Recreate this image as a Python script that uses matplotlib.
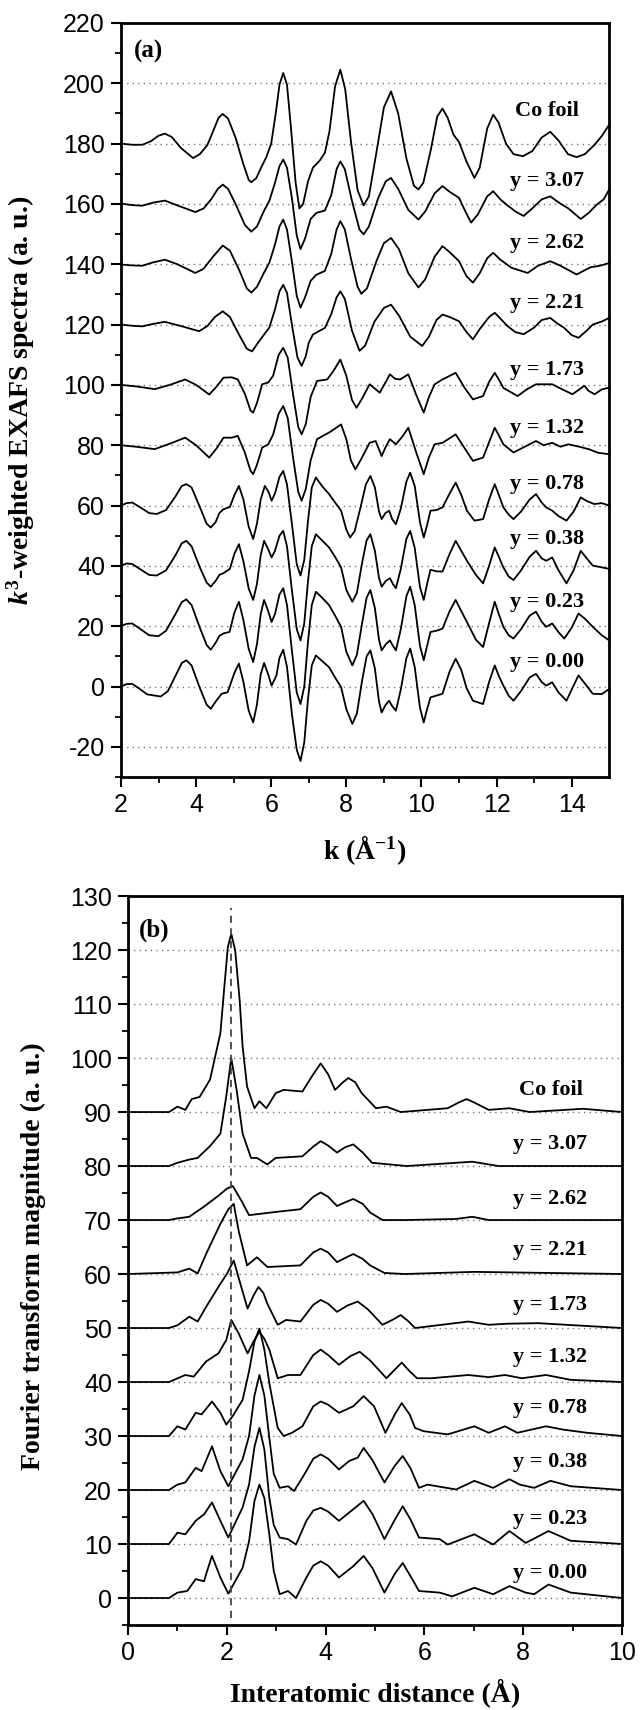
import matplotlib
matplotlib.use('Agg')
import matplotlib.pyplot as plt

plt.rcParams['font.family'] = ['Liberation Sans', 'DejaVu Sans']
plt.rcParams['axes.unicode_minus'] = False
plt.rcParams['mathtext.fontset'] = 'custom'
plt.rcParams['mathtext.rm'] = 'Liberation Serif:bold'
plt.rcParams['mathtext.bf'] = 'Liberation Serif:bold'
plt.rcParams['mathtext.it'] = 'Liberation Serif:italic:bold'
plt.rcParams['mathtext.bfit'] = 'Liberation Serif:italic:bold'

SERIF = ['Liberation Serif', 'DejaVu Serif']

# ---- panel (a): k^3-weighted EXAFS spectra (offset by 20 per sample) ----
a_k_co = [2.0, 2.3, 2.57, 2.8, 3.0, 3.17, 3.35, 3.6, 3.92, 4.1, 4.3, 4.45, 4.6, 4.71, 4.85, 5.05, 5.25,
          5.4, 5.47, 5.6, 5.75, 5.87, 6.0, 6.12, 6.22, 6.32, 6.42, 6.52, 6.65, 6.75, 6.85, 6.98, 7.11,
          7.3, 7.43, 7.55, 7.7, 7.84, 7.97, 8.12, 8.3, 8.46, 8.6, 8.8, 9.0, 9.19, 9.38, 9.6, 9.8, 9.92,
          10.05, 10.25, 10.42, 10.56, 10.7, 10.85, 11.0, 11.2, 11.41, 11.55, 11.75, 11.91, 12.05, 12.25,
          12.45, 12.7, 12.95, 13.2, 13.43, 13.65, 13.9, 14.13, 14.35, 14.6, 14.8, 15.0]
a_co = [180, 179.6, 179.6, 180.8, 182.6, 183.3, 182.2, 178.5, 175.2, 176.5, 179.5, 184, 188.6, 189.8,
        188.3, 182, 173.5, 168, 167.2, 168.5, 172.5, 175.5, 180, 190, 199.5, 203.4, 199.5, 186, 167,
        158.5, 160, 167.5, 172, 174.5, 177, 184, 199, 204.5, 198, 181, 164.5, 159.5, 162.5, 177, 192,
        197.3, 190, 175, 166, 164.8, 167, 178, 189, 191.6, 188.5, 183, 180.5, 174, 168.6, 172, 185, 189.6,
        187, 180, 176.5, 175.8, 177.5, 182, 183.9, 181, 176.5, 175.5, 176.5, 179.5, 182.5, 186.3]

a_k_307 = [2.0, 2.3, 2.57, 2.85, 3.17, 3.5, 3.98, 4.2, 4.4, 4.58, 4.71, 4.85, 5.05, 5.3, 5.47, 5.62, 5.8,
           5.95, 6.1, 6.22, 6.32, 6.42, 6.55, 6.68, 6.78, 6.9, 7.05, 7.2, 7.43, 7.6, 7.74, 7.84, 7.96,
           8.15, 8.35, 8.46, 8.6, 8.85, 9.05, 9.19, 9.38, 9.65, 9.92, 10.1, 10.35, 10.56, 10.75, 11.0,
           11.15, 11.32, 11.5, 11.75, 11.91, 12.1, 12.29, 12.5, 12.72, 12.95, 13.2, 13.43, 13.65, 13.91,
           14.1, 14.24, 14.45, 14.67, 14.85, 15.0]
a_307 = [160.1, 159.6, 159.4, 160.4, 161.1, 159.5, 157.3, 158.5, 161.5, 165, 166.4, 165, 160, 153, 150.8,
         152.5, 157.5, 161, 167, 172.5, 174.7, 172, 162, 149.5, 145, 148.5, 155, 157, 157.8, 163, 171.5,
         174.1, 171.5, 161, 151.5, 149.9, 152.5, 162, 167.5, 168.6, 165, 158, 154.8, 157.5, 163.5, 165.9,
         164, 162, 158, 153.8, 156.5, 162.5, 164.2, 161.5, 159.5, 157.5, 156, 158.5, 161.5, 162.5, 160.5,
         158.5, 156.5, 155, 157, 159.8, 161.5, 164.8]

a_k_262 = [2.0, 2.3, 2.57, 2.85, 3.17, 3.5, 3.98, 4.2, 4.45, 4.71, 4.9, 5.15, 5.35, 5.47, 5.62, 5.8, 5.95,
           6.1, 6.22, 6.32, 6.42, 6.55, 6.68, 6.78, 6.9, 7.05, 7.2, 7.43, 7.6, 7.74, 7.84, 7.96, 8.12,
           8.3, 8.40, 8.55, 8.8, 9.0, 9.19, 9.4, 9.65, 9.92, 10.1, 10.35, 10.56, 10.75, 11.0, 11.2, 11.37,
           11.55, 11.75, 11.91, 12.1, 12.40, 12.83, 13.1, 13.43, 13.7, 14.13, 14.5, 14.75, 15.0]
a_262 = [139.9, 139.6, 139.5, 140.6, 141.5, 140, 137.1, 138.5, 142.5, 146.2, 144.5, 138, 132, 130.6,
         132.5, 137, 140.5, 146.5, 152.5, 154.8, 151.5, 141, 129.5, 125.6, 129, 134.5, 136.5, 137.8,
         143.5, 151.5, 154.3, 151.5, 142, 132.5, 130.2, 132, 141, 147, 148.7, 145, 137, 132.3, 135, 142.5,
         146, 144, 141, 136, 133.9, 137, 142, 143.8, 141.5, 138.8, 137.1, 139.5, 141, 139.5, 136.6, 139,
         139.5, 140.4]

a_k_221 = [2.0, 2.3, 2.57, 2.85, 3.17, 3.6, 4.08, 4.3, 4.5, 4.71, 4.9, 5.15, 5.35, 5.49, 5.65, 5.81,
           5.95, 6.1, 6.22, 6.32, 6.42, 6.55, 6.7, 6.81, 6.92, 7.0, 7.11, 7.43, 7.6, 7.74, 7.84, 7.96,
           8.15, 8.35, 8.5, 8.75, 9.0, 9.19, 9.4, 9.7, 10.02, 10.2, 10.4, 10.56, 10.75, 11.0, 11.2, 11.37,
           11.55, 11.8, 11.95, 12.1, 12.29, 12.5, 12.72, 13.0, 13.2, 13.43, 13.6, 13.80, 14.0, 14.18,
           14.4, 14.56, 14.8, 15.0]
a_221 = [120, 119.6, 119.4, 120.2, 120.9, 119.5, 117.8, 119.5, 122.5, 124.4, 122.5, 116.5, 112, 111.1,
         114, 116.7, 119, 125, 131, 133.2, 130.5, 120, 109, 106.3, 109.5, 114, 116.7, 118.9, 123.5, 129,
         131, 128.5, 118, 111.3, 113, 121, 125.5, 126.6, 123, 116, 112.9, 116, 121.5, 123.3, 122.5, 121.1,
         117.5, 115.1, 118.5, 122.5, 123.9, 122, 119.5, 117.5, 116.8, 119, 121.5, 122.2, 120.5, 118.9,
         116.5, 115.6, 118, 120, 121, 122.2]

a_k_173 = [2.0, 2.4, 2.90, 3.3, 3.71, 4.0, 4.35, 4.55, 4.73, 4.95, 5.11, 5.3, 5.45, 5.52, 5.62, 5.76,
           5.92, 6.05, 6.2, 6.32, 6.44, 6.58, 6.72, 6.81, 6.92, 7.05, 7.22, 7.49, 7.65, 7.84, 8.0, 8.15,
           8.27, 8.42, 8.62, 8.89, 9.05, 9.16, 9.3, 9.43, 9.65, 9.85, 10.06, 10.2, 10.35, 10.56, 10.91,
           11.15, 11.37, 11.64, 11.8, 11.95, 12.05, 12.18, 12.56, 12.8, 13.05, 13.48, 13.75, 14.02, 14.2,
           14.34, 14.45, 14.61, 14.8, 15.0]
a_173 = [100, 99.5, 98.6, 100, 101.8, 100, 96.8, 99.5, 102.4, 102.5, 101.8, 97, 91.5, 90.8, 94, 100.2,
         100.8, 103, 110, 112.3, 109, 97, 86, 83.6, 87, 96, 101.3, 101.8, 104.5, 108.4, 103, 95, 92.4,
         95.5, 100.2, 97.4, 101, 103.5, 102, 101.8, 103.5, 97, 90.8, 96, 100.2, 101.8, 104, 99, 95.2,
         96.3, 101, 104, 102, 99, 96.3, 98.5, 100.2, 100.2, 98.5, 96.9, 98.5, 99.7, 98, 96.9, 98.5, 99.1]

a_k_132 = [2.0, 2.4, 2.90, 3.3, 3.71, 4.0, 4.35, 4.55, 4.73, 4.95, 5.11, 5.3, 5.45, 5.52, 5.62, 5.76,
           5.92, 6.05, 6.2, 6.32, 6.44, 6.58, 6.72, 6.81, 6.92, 7.05, 7.22, 7.54, 7.7, 7.86, 8.0, 8.12,
           8.24, 8.4, 8.62, 8.78, 8.94, 9.05, 9.16, 9.32, 9.5, 9.65, 9.85, 10.06, 10.2, 10.35, 10.56,
           10.91, 11.15, 11.37, 11.64, 11.8, 11.95, 12.05, 12.18, 12.45, 12.75, 13.05, 13.25, 13.48, 13.7,
           13.91, 14.2, 14.45, 14.7, 15.0]
a_132 = [80, 79.5, 78.7, 80.5, 82.5, 80, 75.9, 79, 82.5, 82.5, 83.1, 77.5, 71.5, 70.4, 73.5, 79.2, 80.3,
         83.5, 90.5, 93, 89, 76, 64.5, 61.6, 65.5, 75, 82, 84.2, 85.5, 86.9, 82, 75, 72, 75.5, 80.8, 81.4,
         76.4, 79.5, 82, 80.3, 83, 85.8, 78, 70.4, 76, 80.3, 80.8, 83.6, 79, 74.8, 75.9, 81, 85.8, 83.5,
         80.3, 77.6, 79.5, 81.4, 80, 80.8, 79.5, 80.3, 79.5, 78.7, 77.5, 77]

a_k_078 = [2.0, 2.15, 2.30, 2.5, 2.75, 2.95, 3.2, 3.45, 3.62, 3.74, 3.88, 4.1, 4.28, 4.39, 4.52, 4.62,
           4.73, 4.9, 5.02, 5.14, 5.26, 5.4, 5.52, 5.62, 5.72, 5.83, 5.93, 6.01, 6.1, 6.22, 6.32, 6.42,
           6.55, 6.68, 6.78, 6.88, 6.98, 7.08, 7.19, 7.35, 7.54, 7.7, 7.86, 8.0, 8.10, 8.22, 8.38, 8.52,
           8.64, 8.76, 8.87, 8.94, 9.04, 9.14, 9.22, 9.32, 9.45, 9.6, 9.70, 9.82, 9.96, 10.06, 10.15,
           10.24, 10.4, 10.56, 10.75, 10.91, 11.06, 11.21, 11.41, 11.64, 11.8, 11.95, 12.06, 12.18, 12.32,
           12.45, 12.65, 12.88, 13.05, 13.2, 13.32, 13.48, 13.65, 13.86, 14.05, 14.24, 14.4, 14.6, 14.8,
           15.0]
a_078 = [60, 60.8, 61, 59.5, 57.5, 57.2, 58.5, 63, 66.5, 67.1, 66, 59.5, 54, 52.7, 54.5, 57.5, 58.8, 59.5,
         63.5, 66.5, 62, 53, 48.9, 54, 62, 66.5, 64.5, 61.6, 64, 69.5, 71.5, 67, 54, 40.5, 36.8, 42, 55,
         66, 69.3, 66.5, 63.8, 61, 58.3, 52, 49.4, 51.5, 59.5, 67, 69.8, 66, 58, 55.5, 57.5, 58.3, 55.5,
         53.8, 59, 68, 70.9, 66.5, 54.5, 49.4, 53.5, 58.3, 58.5, 59.4, 64, 67.6, 63.5, 58.3, 55, 55.5, 62,
         67.1, 63.5, 59.4, 57, 55.5, 58, 62, 63.8, 61, 59.4, 58.3, 56.5, 55, 58, 62.7, 61.5, 60.5, 60.8, 60]

a_k_038 = [2.0, 2.15, 2.30, 2.5, 2.75, 2.95, 3.2, 3.45, 3.62, 3.74, 3.88, 4.1, 4.28, 4.39, 4.52, 4.62,
           4.73, 4.9, 5.02, 5.14, 5.26, 5.4, 5.52, 5.62, 5.72, 5.81, 5.92, 6.01, 6.1, 6.22, 6.32, 6.42,
           6.55, 6.68, 6.78, 6.88, 6.98, 7.08, 7.19, 7.35, 7.54, 7.7, 7.86, 8.0, 8.16, 8.28, 8.42, 8.54,
           8.64, 8.76, 8.87, 8.94, 9.05, 9.16, 9.24, 9.32, 9.45, 9.6, 9.70, 9.82, 9.96, 10.06, 10.15,
           10.24, 10.4, 10.56, 10.75, 10.91, 11.06, 11.21, 11.45, 11.64, 11.8, 11.95, 12.06, 12.18, 12.32,
           12.45, 12.65, 12.88, 13.05, 13.2, 13.32, 13.48, 13.65, 13.86, 14.05, 14.24, 14.4, 14.56, 14.8,
           15.0]
a_038 = [40, 40.8, 40.6, 39, 37, 36.8, 38.5, 43.5, 47.5, 48.3, 46.5, 39.5, 34.5, 33.1, 35, 37, 37.6, 39,
         44, 47.2, 41.5, 32.5, 28.7, 34, 43.5, 48.3, 45.5, 42.8, 45, 50, 51.6, 46.5, 32, 19, 15.3, 21, 35,
         46.5, 50.5, 48.5, 46.1, 43, 39.5, 32, 28.1, 31, 41, 48.5, 50.5, 45, 36, 33.1, 35, 35.9, 34, 32.6,
         39, 49, 51.6, 46, 33, 28.7, 34, 38.7, 38.2, 38.1, 44, 48.3, 45, 41.7, 37, 34.2, 40, 46.1, 43, 39.5,
         36.5, 35.3, 38.5, 43, 45, 42.5, 41.7, 42.8, 38.5, 34.2, 38.5, 45, 42.5, 40.1, 39.5, 39]

a_k_023 = [2.0, 2.15, 2.30, 2.5, 2.75, 3.00, 3.2, 3.45, 3.62, 3.74, 3.88, 4.1, 4.28, 4.39, 4.52, 4.62,
           4.73, 4.89, 5.02, 5.14, 5.26, 5.4, 5.52, 5.62, 5.72, 5.81, 5.92, 6.01, 6.1, 6.22, 6.32, 6.42,
           6.55, 6.68, 6.78, 6.88, 6.98, 7.08, 7.19, 7.35, 7.54, 7.7, 7.86, 8.0, 8.16, 8.28, 8.42, 8.54,
           8.64, 8.76, 8.87, 8.94, 9.05, 9.16, 9.24, 9.32, 9.45, 9.6, 9.70, 9.82, 9.96, 10.06, 10.15,
           10.24, 10.4, 10.56, 10.75, 10.91, 11.06, 11.21, 11.45, 11.64, 11.8, 11.95, 12.06, 12.18, 12.32,
           12.45, 12.65, 12.88, 13.05, 13.2, 13.32, 13.48, 13.65, 13.80, 14.0, 14.18, 14.35, 14.56, 14.8,
           15.0]
a_023 = [20, 20.8, 20.9, 19.2, 17, 16.7, 18.5, 24, 28, 28.9, 27, 19.5, 13.8, 12.2, 14.5, 16.8, 17.6, 18.1,
         24.5, 28.1, 22, 12.5, 8.1, 14, 24, 28.7, 25, 21.4, 24, 30.5, 32.6, 27, 12, -2, -5.8, 0, 15, 27,
         31.4, 29.5, 27, 23.5, 19.8, 11.5, 7, 10.5, 21, 29.5, 32, 26, 15.5, 12, 14, 15.3, 13.5, 12, 19, 30,
         33.1, 27, 13.5, 8.7, 13.5, 18.1, 18.5, 19.2, 25, 28.7, 25, 21.4, 15.5, 13.1, 21, 28.1, 24, 19.8,
         17, 15.9, 19, 23.5, 24.8, 21.5, 19.8, 20.9, 18, 15.9, 19.5, 24.2, 22.5, 19.8, 17, 15.3]

a_k_000 = [2.0, 2.15, 2.30, 2.5, 2.7, 2.90, 3.06, 3.25, 3.45, 3.62, 3.74, 3.88, 4.1, 4.28, 4.39, 4.52,
           4.68, 4.84, 5.02, 5.14, 5.26, 5.4, 5.52, 5.62, 5.72, 5.81, 5.92, 6.01, 6.14, 6.22, 6.32, 6.42,
           6.55, 6.68, 6.78, 6.88, 6.98, 7.08, 7.19, 7.35, 7.54, 7.7, 7.86, 8.0, 8.16, 8.28, 8.42, 8.54,
           8.64, 8.76, 8.87, 8.94, 9.05, 9.14, 9.22, 9.32, 9.45, 9.6, 9.70, 9.82, 9.96, 10.06, 10.15,
           10.24, 10.4, 10.56, 10.75, 10.91, 11.06, 11.2, 11.37, 11.64, 11.8, 11.95, 12.06, 12.18, 12.32,
           12.45, 12.65, 12.88, 13.05, 13.2, 13.32, 13.48, 13.65, 13.86, 14.0, 14.18, 14.35, 14.56, 14.8,
           15.0]
a_000 = [0, 0.8, 0.9, -0.8, -2.6, -3, -3.3, -1.5, 3.5, 7.8, 8.7, 7, -0.5, -6, -7.4, -5, -2.4, -1.9, 4.5,
         7.6, 1.5, -8, -11.9, -6, 4, 7.8, 4, 0.3, 3.7, 9.5, 12.2, 6.5, -9, -21, -24.7, -18.5, -4, 7, 10.3,
         8.5, 6.4, 3, -0.2, -7.5, -12.4, -9, 2, 10, 12, 6, -5, -8.6, -6, -4.7, -6.5, -8, -1, 9.5, 12.6,
         6.5, -7, -11.9, -7.5, -3.6, -3, -2.4, 5, 9.2, 5.5, -0.5, -4.7, -5.8, 1.5, 7, 3.5, 0.3, -3, -4.7,
         -1.5, 3, 4.2, 1.5, 0.3, 1.4, -2, -4.7, -1, 3.7, 1, -2.4, -2.5, -0.8]

# ---- panel (b): Fourier transform magnitude (offset by 10 per sample) ----
b_r_co = [0, 0.83, 1.0, 1.16, 1.29, 1.45, 1.66, 1.87, 1.95, 2.02, 2.09, 2.17, 2.26, 2.32, 2.41, 2.56,
          2.66, 2.80, 2.99, 3.15, 3.53, 3.75, 3.90, 4.05, 4.19, 4.35, 4.46, 4.6, 4.73, 5.02, 5.23, 5.52,
          6.47, 6.7, 6.85, 7.0, 7.30, 7.72, 8.13, 9.21, 10.0]
b_co = [90, 90, 91, 90.4, 92.4, 92.8, 96, 104.6, 113.2, 120.5, 123, 119.9, 110.7, 102.1, 94.7, 90.7, 92,
        90.7, 93.5, 94.1, 93.8, 97, 99, 97, 94.1, 95.5, 96.3, 95.5, 93.5, 90.7, 91, 90, 90.7, 91.8, 92.4,
        91.8, 90.4, 90.7, 90, 90.6, 90]

b_r_307 = [0, 0.83, 1.0, 1.24, 1.41, 1.66, 1.87, 1.99, 2.09, 2.2, 2.32, 2.49, 2.61, 2.82, 2.99, 3.53,
           3.75, 3.90, 4.05, 4.23, 4.4, 4.56, 4.75, 4.94, 5.64, 6.97, 7.5, 10.0]
b_307 = [80, 80, 80.6, 81.2, 81.5, 83.7, 86, 93, 100, 94, 86, 81.5, 81.5, 80.3, 81.5, 81.8, 83.6, 84.6,
         83.8, 82.5, 83.5, 84, 82.5, 80.6, 80, 80.8, 80, 80]

b_r_262 = [0, 0.83, 1.0, 1.24, 1.54, 1.83, 2.0, 2.12, 2.3, 2.45, 2.99, 3.49, 3.75, 3.90, 4.05, 4.23,
           4.4, 4.56, 4.75, 4.90, 5.15, 5.64, 6.64, 6.97, 7.3, 10.0]
b_262 = [70, 70, 70.3, 70.6, 72.5, 74.5, 75.8, 76.3, 73.5, 70.9, 71.5, 72, 74.3, 75.1, 74.3, 72.6, 73.3,
         73.9, 73, 71.4, 70, 70, 70.2, 70.6, 70, 70]

b_r_221 = [0, 1.0, 1.24, 1.41, 1.58, 1.87, 2.03, 2.14, 2.24, 2.41, 2.61, 2.82, 3.49, 3.75, 3.90, 4.05,
           4.23, 4.4, 4.56, 4.75, 4.90, 5.19, 5.6, 7.0, 10.0]
b_221 = [60, 60.3, 61, 60.1, 63.7, 69.3, 72, 73, 68, 61.6, 63.1, 61.3, 61.6, 64, 64.7, 64, 62.2, 63,
         63.7, 62.8, 61.6, 60.2, 60, 60.4, 60]

b_r_173 = [0, 0.83, 1.0, 1.24, 1.41, 1.58, 1.87, 2.0, 2.14, 2.28, 2.42, 2.54, 2.64, 2.74, 2.82, 3.03,
           3.20, 3.49, 3.75, 3.90, 4.05, 4.23, 4.45, 4.65, 4.85, 5.15, 5.35, 5.52, 5.68, 5.81, 6.89, 7.30,
           7.68, 8.30, 10.0]
b_173 = [50, 50, 50.5, 52.1, 51.2, 53.9, 58.2, 60, 62.5, 58, 53.6, 56, 57.6, 56.5, 54.5, 50.6, 51.5,
         51.2, 54.3, 55.2, 54.5, 53, 54.2, 54.9, 53.5, 50.6, 51.5, 52.4, 51.2, 50, 51.2, 50.6, 50.8, 50.9,
         50]

b_r_132 = [0, 0.83, 1.16, 1.33, 1.58, 1.83, 1.99, 2.09, 2.24, 2.42, 2.54, 2.66, 2.76, 2.86, 3.03, 3.24,
           3.49, 3.75, 3.90, 4.05, 4.27, 4.5, 4.69, 4.9, 5.23, 5.4, 5.54, 5.7, 5.85, 6.14, 6.89, 7.30,
           7.63, 7.97, 8.46, 8.96, 10.0]
b_132 = [40, 40, 41.3, 41, 43.8, 45.3, 47.8, 51.5, 49, 45.3, 47.5, 49.3, 48, 46, 40.7, 41.3, 41.3, 45,
         46, 45, 43.2, 44.8, 45.6, 44, 40.7, 42.3, 43.6, 42, 40.7, 40.7, 41.3, 40.9, 41.3, 40.7, 41.3,
         40.4, 40]

b_r_078 = [0, 0.83, 1.0, 1.16, 1.37, 1.49, 1.70, 1.87, 1.99, 2.12, 2.32, 2.45, 2.56, 2.66, 2.76, 2.86,
           3.03, 3.15, 3.32, 3.53, 3.75, 3.90, 4.05, 4.27, 4.56, 4.77, 4.98, 5.21, 5.4, 5.54, 5.7, 5.81,
           5.98, 6.47, 7.01, 7.30, 7.63, 7.88, 8.46, 8.80, 9.29, 10.0]
b_078 = [30, 30, 31.8, 31.2, 34.3, 34, 36.4, 34.3, 32.1, 33.7, 36.7, 42, 47.5, 49.9, 46, 39.8, 31.5, 30,
         30.6, 31.8, 35.5, 36.4, 35.8, 34.3, 35.5, 37.4, 35.5, 30.6, 34, 36.1, 34, 31.5, 30.9, 30.3, 31.8,
         30.6, 31.8, 30.6, 31.8, 31.2, 30.6, 30]

b_r_038 = [0, 0.83, 1.0, 1.16, 1.37, 1.49, 1.70, 1.87, 2.03, 2.32, 2.45, 2.56, 2.66, 2.76, 2.86, 2.95,
           3.07, 3.24, 3.36, 3.57, 3.75, 3.90, 4.05, 4.27, 4.48, 4.65, 4.77, 4.95, 5.19, 5.4, 5.56, 5.72,
           5.89, 6.06, 6.64, 7.01, 7.39, 7.72, 7.93, 8.22, 8.55, 8.96, 10.0]
b_038 = [20, 20, 21, 21.4, 24.1, 23.5, 28.1, 23.5, 20.7, 25.7, 30, 37.5, 41.3, 37.5, 29.7, 23, 20.4, 20.7,
         19.8, 22.9, 25.8, 26.6, 25.8, 23.8, 25.4, 26, 27.8, 25.5, 21.4, 24.5, 26.3, 24, 20.4, 21, 20.1,
         21.7, 20.4, 22, 21, 20.4, 21.7, 20.7, 20]

b_r_023 = [0, 0.83, 1.0, 1.16, 1.37, 1.54, 1.70, 1.87, 2.03, 2.32, 2.45, 2.56, 2.66, 2.76, 2.86, 2.95,
           3.07, 3.24, 3.40, 3.61, 3.75, 3.90, 4.05, 4.27, 4.5, 4.77, 4.95, 5.19, 5.4, 5.56, 5.72, 5.89,
           6.31, 6.47, 7.01, 7.39, 7.72, 8.05, 8.51, 8.96, 10.0]
b_023 = [10, 10, 12.1, 11.8, 14.3, 15.5, 17.7, 14.3, 11.2, 16.8, 21, 28, 31.5, 27.5, 18.6, 13.5, 11.2,
         10.9, 9.9, 14.3, 16.2, 16.7, 16, 14.3, 16, 18, 15.5, 10.9, 14.5, 17, 14.5, 11.2, 10.9, 9.9, 11.8,
         9.9, 12.4, 10.2, 12.4, 10.6, 10]

b_r_000 = [0, 0.83, 1.0, 1.20, 1.37, 1.54, 1.58, 1.70, 1.87, 2.03, 2.32, 2.45, 2.56, 2.66, 2.76, 2.86,
           2.95, 3.07, 3.24, 3.40, 3.61, 3.75, 3.90, 4.05, 4.27, 4.56, 4.77, 4.95, 5.19, 5.4, 5.56, 5.72,
           5.89, 6.31, 6.56, 7.01, 7.39, 7.72, 8.05, 8.22, 8.51, 8.96, 10.0]
b_000 = [0, 0, 1, 1.3, 3.5, 3.1, 4.4, 7.8, 3.8, 0.8, 5.6, 10.5, 18, 21, 18.5, 11.8, 5, 0.7, 1.3, 0, 3.8,
         6, 6.8, 6, 3.8, 5.9, 7.8, 5.5, 1, 4.5, 6.5, 4, 1.3, 1, 0.3, 1.9, 0.7, 2.2, 1, 0.7, 2.5, 1, 0]

labels = ['Co foil', 'y = 3.07', 'y = 2.62', 'y = 2.21', 'y = 1.73',
          'y = 1.32', 'y = 0.78', 'y = 0.38', 'y = 0.23', 'y = 0.00']
a_label_y = [190.7, 167.5, 147, 127.2, 105.1, 85.8, 67.1, 48.9, 28.1, 8.1]
b_label_y = [94.1, 84.0, 73.9, 64.4, 54.2, 44.7, 35.2, 25.1, 14.6, 4.7]

dash_r = 2.08
dash_y = [-3.7, 127.8]

a_series = [(a_k_co, a_co), (a_k_307, a_307), (a_k_262, a_262), (a_k_221, a_221), (a_k_173, a_173),
            (a_k_132, a_132), (a_k_078, a_078), (a_k_038, a_038), (a_k_023, a_023), (a_k_000, a_000)]
b_series = [(b_r_co, b_co), (b_r_307, b_307), (b_r_262, b_262), (b_r_221, b_221), (b_r_173, b_173),
            (b_r_132, b_132), (b_r_078, b_078), (b_r_038, b_038), (b_r_023, b_023), (b_r_000, b_000)]


def style_axes(ax):
    for side in ['top', 'right', 'left', 'bottom']:
        ax.spines[side].set_linewidth(2.0)
    ax.tick_params(which='major', direction='out', length=7.5, width=1.5, labelsize=18, pad=4,
                   top=False, right=False)
    ax.tick_params(which='minor', direction='out', length=4, width=1.3, top=False, right=False)
    ax.grid(True, axis='y', which='major', linestyle=(0, (1, 3)), color='#777777', linewidth=1.0)
    ax.set_axisbelow(True)


fig = plt.figure(figsize=(6.4, 17.1), dpi=100)

# panel (a)
ax1 = fig.add_axes([0.189, 0.5456, 0.763, 0.441])
for k, v in a_series:
    ax1.plot(k, v, color='black', linewidth=1.3, solid_joinstyle='round')
for txt, yy in zip(labels, a_label_y):
    ax1.text(13.35, yy, txt, ha='center', va='center', fontsize=16, fontweight='bold', family=SERIF)
ax1.text(2.35, 210.5, '(a)', ha='left', va='center', fontsize=18, fontweight='bold', family=SERIF)
ax1.set_xlim(2, 15)
ax1.set_ylim(-30, 220)
ax1.set_xticks([2, 4, 6, 8, 10, 12, 14])
ax1.set_xticks(range(3, 15, 2), minor=True)
ax1.set_yticks(range(-20, 221, 20))
ax1.set_yticks(range(-30, 220, 20), minor=True)
style_axes(ax1)
ax1.set_xlabel(r'k ($\mathregular{\AA^{-1}}$)', fontsize=20, fontweight='bold', family=SERIF)
ax1.set_ylabel(r'$k^{\mathbf{3}}$-weighted EXAFS spectra (a. u.)', fontsize=20, fontweight='bold',
               family=SERIF)
ax1.xaxis.set_label_coords(0.5, -0.097)
ax1.xaxis.label.set_va('center')
ax1.yaxis.set_label_coords(-0.205, 0.5)
ax1.yaxis.label.set_va('center')

# panel (b)
ax2 = fig.add_axes([0.2, 0.0497, 0.772, 0.4263])
for r, v in b_series:
    ax2.plot(r, v, color='black', linewidth=1.3, solid_joinstyle='round')
ax2.plot([dash_r, dash_r], dash_y, color='#444444', linewidth=1.3, linestyle=(0, (4, 3)))
for txt, yy in zip(labels, b_label_y):
    ax2.text(8.55, yy, txt, ha='center', va='center', fontsize=16, fontweight='bold', family=SERIF)
ax2.text(0.22, 123.6, '(b)', ha='left', va='center', fontsize=18, fontweight='bold', family=SERIF)
ax2.set_xlim(0, 10)
ax2.set_ylim(-5, 130)
ax2.set_xticks([0, 2, 4, 6, 8, 10])
ax2.set_xticks(range(1, 10, 2), minor=True)
ax2.set_yticks(range(0, 131, 10))
ax2.set_yticks(range(-5, 130, 10), minor=True)
style_axes(ax2)
ax2.set_xlabel('Interatomic distance (Å)', fontsize=20, fontweight='bold', family=SERIF)
ax2.set_ylabel('Fourier transform magnitude (a. u.)', fontsize=20, fontweight='bold', family=SERIF)
ax2.xaxis.set_label_coords(0.5, -0.093)
ax2.xaxis.label.set_va('center')
ax2.yaxis.set_label_coords(-0.192, 0.506)
ax2.yaxis.label.set_va('center')

fig.savefig('out.png', dpi=100)
